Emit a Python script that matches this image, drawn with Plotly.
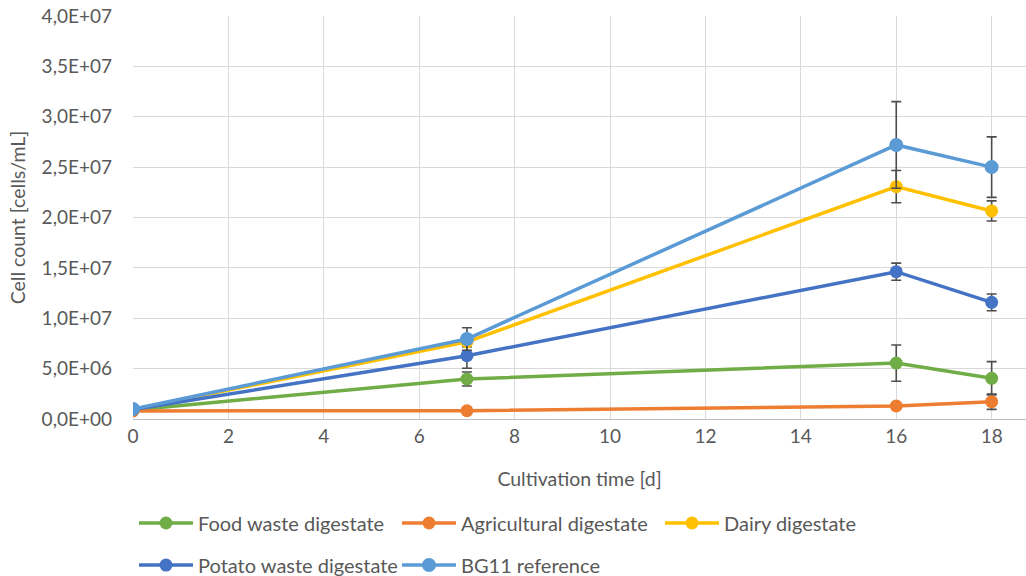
import plotly.graph_objects as go

days = [0, 7, 16, 18]

food_waste = [0.9e6, 3.97e6, 5.55e6, 4.04e6]
food_waste_err = [0, 0.7e6, 1.8e6, 1.65e6]

agricultural = [0.8e6, 0.82e6, 1.29e6, 1.72e6]
agricultural_err = [0, 0, 0.3e6, 0.76e6]

dairy = [0.95e6, 7.65e6, 2.306e7, 2.065e7]
dairy_err = [0, 0.5e6, 1.6e6, 1.0e6]

potato_waste = [0.95e6, 6.28e6, 1.462e7, 1.158e7]
potato_waste_err = [0, 1.25e6, 0.85e6, 0.83e6]

bg11 = [1.0e6, 7.94e6, 2.72e7, 2.50e7]
bg11_err = [0, 1.12e6, 4.3e6, 3.0e6]

series = [
    ("Food waste digestate", food_waste, food_waste_err, "#70AD47", "legend"),
    ("Agricultural digestate", agricultural, agricultural_err, "#ED7D31", "legend"),
    ("Dairy digestate", dairy, dairy_err, "#FFC000", "legend"),
    ("Potato waste digestate", potato_waste, potato_waste_err, "#4472C4", "legend2"),
    ("BG11 reference", bg11, bg11_err, "#5B9BD5", "legend2"),
]

y_tickvals = [0, 5e6, 1e7, 1.5e7, 2e7, 2.5e7, 3e7, 3.5e7, 4e7]
y_ticktext = ["0,0E+00", "5,0E+06", "1,0E+07", "1,5E+07", "2,0E+07",
              "2,5E+07", "3,0E+07", "3,5E+07", "4,0E+07"]
x_tickvals = [0, 2, 4, 6, 8, 10, 12, 14, 16, 18]

FONT = "Lato"
GREY = "#595959"
FS = 19
FL = 20

fig = go.Figure()
for name, vals, err, color, leg in series:
    fig.add_trace(go.Scatter(
        x=days, y=vals, name=name, mode="lines+markers",
        line=dict(color=color, width=3.5),
        marker=dict(color=color, size=14 if name == "BG11 reference" else 13),
        error_y=dict(type="data", array=err, visible=True, color="#4D4D4D",
                     thickness=1.6, width=5),
        legend=leg,
    ))

legend_common = dict(orientation="h", xref="container", yref="container",
                     xanchor="left", yanchor="middle",
                     font=dict(family=FONT, size=FL, color=GREY), bgcolor="rgba(0,0,0,0)",
                     itemwidth=54, entrywidth=194, entrywidthmode="pixels")

fig.update_layout(
    width=1026, height=576,
    margin=dict(l=133, r=0, t=16, b=157),
    paper_bgcolor="white", plot_bgcolor="white",
    font=dict(family=FONT, size=FS, color=GREY),
    showlegend=True,
    legend=dict(x=0.1306, y=0.092, **legend_common),
    legend2=dict(x=0.1306, y=0.019, **legend_common),
    xaxis=dict(
        range=[0, 18.72], tickmode="array", tickvals=x_tickvals,
        showgrid=True, gridcolor="#D9D9D9", gridwidth=1.3,
        showline=True, linecolor="#BFBFBF", linewidth=1.3,
        zeroline=False, ticks="", ticklen=0,
        tickfont=dict(family=FONT, size=FS, color=GREY),
        title=dict(text="Cultivation time [d]", font=dict(family=FONT, size=19.5, color=GREY), standoff=26),
    ),
    yaxis=dict(
        range=[0, 4e7], tickmode="array", tickvals=y_tickvals, ticktext=y_ticktext,
        showgrid=True, gridcolor="#D9D9D9", gridwidth=1.3,
        showline=False, zeroline=False, ticks="", ticklabelstandoff=20,
        tickfont=dict(family=FONT, size=FS, color=GREY),
        title=dict(text="Cell count [cells/mL]", font=dict(family=FONT, size=19.5, color=GREY), standoff=10),
    ),
)

fig.write_html("out.html", config={"displayModeBar": False},
               post_script="document.body.style.margin='0';")
